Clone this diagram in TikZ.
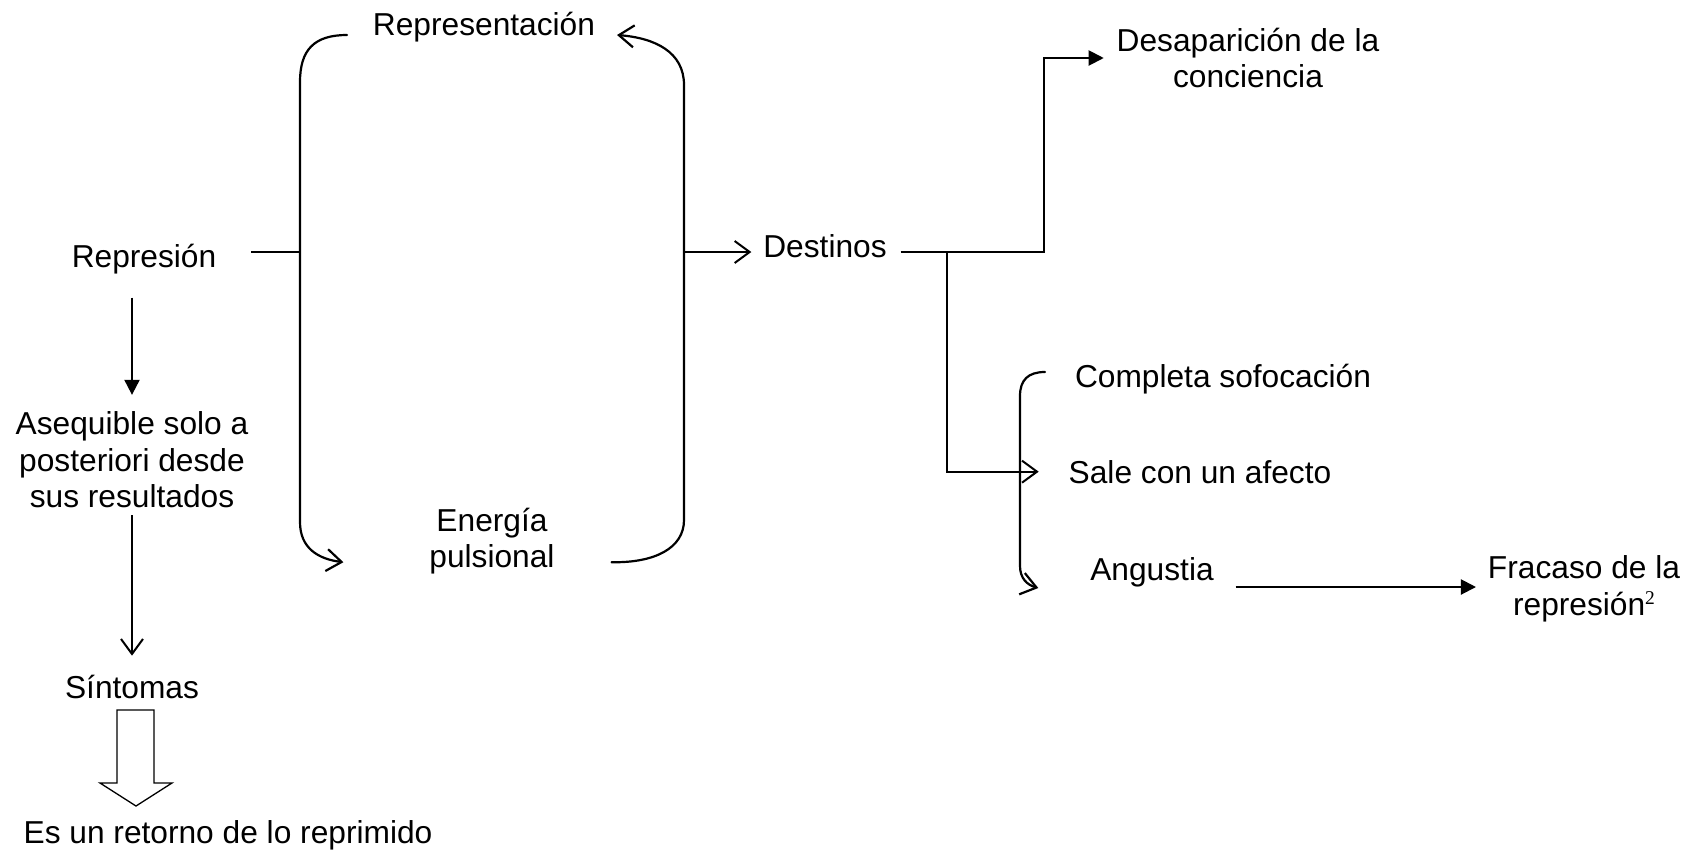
\documentclass[tikz,border=0pt]{standalone}
\usepackage{fontspec}
\setmainfont{Liberation Sans}
\newfontfamily\supfont{Liberation Serif}
\usetikzlibrary{arrows.meta,calc}

\tikzset{
  lbl/.style={font=\fontsize{31.7}{36.5}\selectfont, inner sep=0pt, outer sep=0pt, align=center},
  conn/.style={line width=2pt},
  brace/.style={line width=2.2pt, line cap=round},
  solidhead/.style={-{Triangle[length=15pt,width=15pt]}},
  openhead/.style={-{Straight Barb[length=15pt,width=22pt]}},
  hollow/.style={line width=1.3pt, line join=miter},
}

\begin{document}
\begin{tikzpicture}[x=1pt,y=-1pt]
\useasboundingbox (0,0) rectangle (1696,852);

% labels
\node[lbl, anchor=base] (rep)  at (484,35)  {Representación};
\node[lbl]              (ene)  at (492,541) {Energía\\pulsional};
\node[lbl, anchor=base] (repr) at (144,267) {Represión};
\node[lbl]              (ase)  at (132,460) {Asequible solo a\\posteriori desde\\sus resultados};
\node[lbl, anchor=base] (sin)  at (132,698) {Síntomas};
\node[lbl, anchor=base] (ret)  at (228,843) {Es un retorno de lo reprimido};
\node[lbl, anchor=base] (des)  at (825,257) {Destinos};
\node[lbl]              (desap) at (1248,58) {Desaparición de la\\conciencia};
\node[lbl, anchor=base] (comp) at (1223,387) {Completa sofocación};
\node[lbl, anchor=base] (sale) at (1200,483) {Sale con un afecto};
\node[lbl, anchor=base] (ang)  at (1152,580) {Angustia};
\node[lbl]              (fra)  at (1584,589) {Fracaso de la\\represión{\supfont\fontsize{19.5}{19.5}\selectfont\raisebox{11pt}{2}}};

% joints
\coordinate (jL) at (300,252);
\coordinate (jR) at (684,252);
\coordinate (kB) at (947,252);
\coordinate (kD) at (1044,252);

% left brace: Representación -> Energía pulsional
\draw[brace, openhead] ($(rep.base west)+(-26,0)$)
  .. controls (314,35) and (300,50) .. (300,82)
  -- (300,522)
  .. controls (300,548) and (318,559) .. ($(ene.south west)+(-86,-12)$);

% right brace: Energía pulsional -> Representación
\draw[brace, openhead] ($(ene.south east)+(57,-12)$)
  .. controls (655,563) and (684,548) .. (684,520)
  -- (684,85)
  .. controls (684,52) and (655,38) .. ($(rep.base east)+(22,0)$);

% Represión joins the left brace
\draw[conn] ($(jL -| repr.east)+(35,0)$) -- (jL);

% right brace to Destinos
\draw[conn, openhead] (jR) -- ($(jR -| des.west)+(-12,0)$);

% Destinos branches
\draw[conn, solidhead] ($(jR -| des.east)+(14,0)$) -- (kD) |- ($(desap.west)+(-13,0)$);
\draw[conn, openhead] (kB) |- ($(sale.west)+(-30,0)$);

% brace over the three outcomes
\draw[brace, openhead] ($(comp.base west)+(-30,-15)$)
  .. controls (1028,372) and (1020,380) .. (1020,396)
  -- (1020,566)
  .. controls (1020,578) and (1027,585) .. ($(ang.base west)+(-52,8)$);

% Angustia -> Fracaso de la represión
\draw[conn, solidhead] ($(ang.base east)+(22,7)$) -- ($(ang.base east -| fra.west)+(-12,7)$);

% left column
\draw[conn, solidhead] ($(ase.north |- repr.south)+(0,24)$) -- ($(ase.north)+(0,-17)$);
\draw[conn, openhead] ($(ase.south)+(0,7)$) -- ($(sin.north)+(0,-19)$);

% hollow block arrow from Síntomas to the last line
\draw[hollow, shift={(136,710)}] (-19,0) -- (18,0) -- (18,73) -- (36,73) -- (0,96) -- (-36,73) -- (-19,73) -- cycle;
\end{tikzpicture}
\end{document}
